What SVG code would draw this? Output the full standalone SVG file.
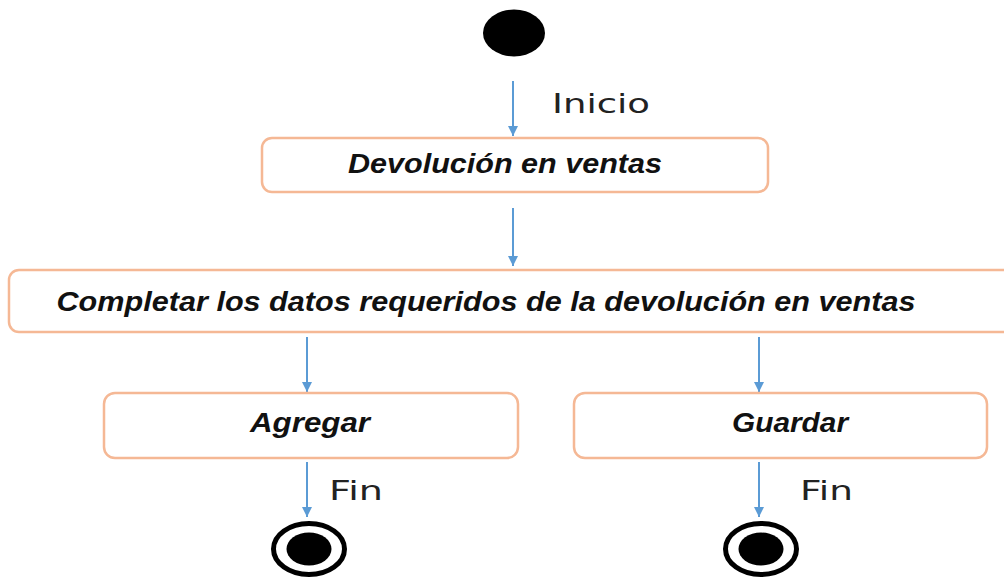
<svg xmlns="http://www.w3.org/2000/svg" width="1004" height="578" viewBox="0 0 1004 578">
<style>
.box{fill:#fff;stroke:#F5B895;stroke-width:2.5}
.act{font-family:"Liberation Sans",Arial,sans-serif;font-weight:bold;font-style:italic;font-size:28px;fill:#111;text-anchor:middle}
.lbl{font-family:"DejaVu Sans","Open Sans",sans-serif;font-size:27px;fill:#222}
.conn{stroke:#5B9BD5;stroke-width:2;fill:none}
</style>
<defs>
<marker id="ah" viewBox="0 0 10 10" refX="10" refY="5" markerWidth="6" markerHeight="5" markerUnits="userSpaceOnUse" orient="auto">
<path d="M0,0 L10,5 L0,10 z" fill="#5B9BD5"/>
</marker>
<marker id="ah2" viewBox="0 0 12 12" refX="12" refY="6" markerWidth="10" markerHeight="12" orient="auto" markerUnits="userSpaceOnUse">
<path d="M0,0 L12,6 L0,12 z" fill="#5B9BD5"/>
</marker>
</defs>
<rect width="1004" height="578" fill="#fff"/>
<g id="start"><ellipse cx="514" cy="33" rx="31" ry="23.5" fill="#000"/></g>
<g id="connectors">
<line class="conn" x1="513" y1="81" x2="513" y2="136" marker-end="url(#ah2)"/>
<line class="conn" x1="513" y1="208" x2="513" y2="266" marker-end="url(#ah2)"/>
<line class="conn" x1="307" y1="337" x2="307" y2="392" marker-end="url(#ah2)"/>
<line class="conn" x1="759" y1="337" x2="759" y2="392" marker-end="url(#ah2)"/>
<line class="conn" x1="307" y1="462" x2="307" y2="517" marker-end="url(#ah2)"/>
<line class="conn" x1="759" y1="462" x2="759" y2="517" marker-end="url(#ah2)"/>
<text class="lbl" x="552" y="113" textLength="98" lengthAdjust="spacingAndGlyphs">Inicio</text>
<text class="lbl" x="329" y="500" textLength="54" lengthAdjust="spacingAndGlyphs">Fin</text>
<text class="lbl" x="800" y="500" textLength="53" lengthAdjust="spacingAndGlyphs">Fin</text>
</g>
<g id="devolucion">
<rect class="box" x="262" y="138" width="506" height="54" rx="10"/>
<text class="act" x="505" y="173" textLength="314" lengthAdjust="spacingAndGlyphs">Devolución en ventas</text>
</g>
<g id="completar">
<rect class="box" x="9" y="270" width="1020" height="62" rx="10"/>
<text class="act" x="486" y="311" textLength="859" lengthAdjust="spacingAndGlyphs">Completar los datos requeridos de la devolución en ventas</text>
</g>
<g id="agregar">
<rect class="box" x="104" y="393" width="414" height="65" rx="11"/>
<text class="act" x="310" y="432" textLength="120" lengthAdjust="spacingAndGlyphs">Agregar</text>
</g>
<g id="guardar">
<rect class="box" x="574" y="393" width="413" height="65" rx="11"/>
<text class="act" x="790" y="432" textLength="116" lengthAdjust="spacingAndGlyphs">Guardar</text>
</g>
<g id="end1">
<ellipse cx="309" cy="549" rx="35.5" ry="25.5" fill="#fff" stroke="#000" stroke-width="5"/>
<ellipse cx="309" cy="549" rx="22.5" ry="16.5" fill="#000"/>
</g>
<g id="end2">
<ellipse cx="761" cy="549" rx="35.5" ry="25.5" fill="#fff" stroke="#000" stroke-width="5"/>
<ellipse cx="761" cy="549" rx="22.5" ry="16.5" fill="#000"/>
</g>
</svg>
